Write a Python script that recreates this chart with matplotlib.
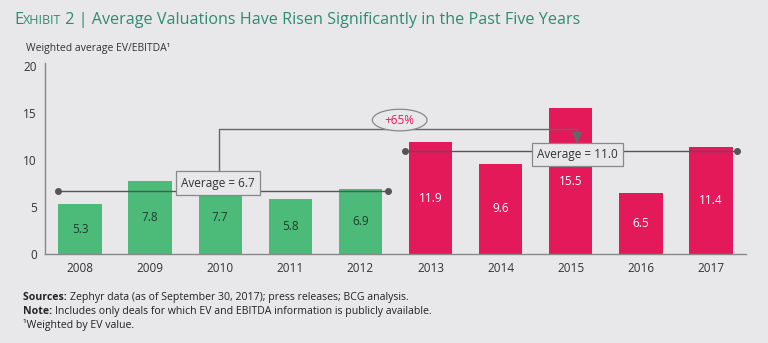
import matplotlib
matplotlib.use("Agg")
import matplotlib.pyplot as plt
from matplotlib.patches import Ellipse

plt.rcParams['font.family'] = ['Open Sans', 'DejaVu Sans']

years = ['2008', '2009', '2010', '2011', '2012', '2013', '2014', '2015', '2016', '2017']
values = [5.3, 7.8, 7.7, 5.8, 6.9, 11.9, 9.6, 15.5, 6.5, 11.4]
avg_before = 6.7   # 2008-2012
avg_after = 11.0   # 2013-2017
change_label = '+65%'
y_ticks = [0, 5, 10, 15, 20]

bg = '#e8e8ea'
green = '#4cba79'
red = '#e3195a'
teal = '#2f8c70'
grey = '#666666'

fig = plt.figure(figsize=(7.68, 3.43), dpi=100, facecolor=bg)
ax = fig.add_axes([45 / 768, 1 - 254 / 343, (746 - 45) / 768, (254 - 66) / 343])
ax.set_facecolor(bg)

x = list(range(len(years)))
colors = [green] * 5 + [red] * 5
ax.bar(x, values, width=0.62, color=colors, zorder=2)
for xi, v, c in zip(x, values, colors):
    ax.text(xi, v / 2, f'{v:.1f}', ha='center', va='center', fontsize=8.5,
            color='#1f3d2b' if c == green else 'white', zorder=3)

ax.set_xlim(-0.5, 9.5)
ax.set_ylim(0, 20)
ax.set_xticks(x)
ax.set_xticklabels(years, fontsize=8.5, color='#333333')
ax.set_yticks(y_ticks)
ax.set_yticklabels([str(t) for t in y_ticks], fontsize=8.5, color='#333333')
ax.tick_params(length=0, pad=6)
for s in ['top', 'right']:
    ax.spines[s].set_visible(False)
for s in ['left', 'bottom']:
    ax.spines[s].set_color('#888888')
    ax.spines[s].set_linewidth(1.0)
ax.spines['left'].set_bounds(0, 20.3)

# average lines with end dots
ax.plot([-0.31, 4.39], [avg_before] * 2, color='#555555', lw=1.0, zorder=4,
        marker='o', markersize=4, markevery=[0, 1], clip_on=False)
ax.plot([4.63, 9.37], [avg_after] * 2, color='#555555', lw=1.0, zorder=4,
        marker='o', markersize=4, markevery=[0, 1], clip_on=False)

box = dict(boxstyle='square,pad=0.45', fc=bg, ec='#888888', lw=0.9)
ax.text(1.97, 7.55, f'Average = {avg_before:.1f}', ha='center', va='center',
        fontsize=8.5, color='#333333', bbox=box, zorder=6)
ax.text(7.1, 10.6, f'Average = {avg_after:.1f}', ha='center', va='center',
        fontsize=8.5, color='#333333', bbox=box, zorder=6)

# bracket from the first average to the second
ax.plot([1.98, 1.98, 7.09, 7.09], [8.8, 13.3, 13.3, 12.6], color=grey, lw=1.0, zorder=5)
ax.annotate('', xy=(7.09, 11.7), xytext=(7.09, 12.7),
            arrowprops=dict(arrowstyle='-|>,head_length=0.7,head_width=0.3',
                            fc=grey, ec=grey, lw=1.0, shrinkA=0, shrinkB=0), zorder=7)
ax.add_patch(Ellipse((4.56, 14.25), 0.78, 2.3, fc=bg, ec='#888888', lw=0.9, zorder=6))
ax.text(4.56, 14.25, change_label, ha='center', va='center', fontsize=8.5,
        color=red, zorder=7)

r = fig.canvas.get_renderer()


def run_text(x0, y0, parts, color, **kw):
    # lay out text pieces one after another on the same baseline
    xpos = x0
    for txt, size, weight in parts:
        t = fig.text(xpos / 768, 1 - y0 / 343, txt, fontsize=size, weight=weight,
                     color=color, va='baseline', **kw)
        xpos += t.get_window_extent(r).width


# title with small-caps "Exhibit"
run_text(14, 24, [('E', 11.6, 'normal'), ('XHIBIT', 9.0, 'normal'),
                  (' 2 | Average Valuations Have Risen Significantly in the Past Five Years', 11.6, 'normal')],
         teal)

fig.text(26 / 768, 1 - 49 / 343, 'Weighted average EV/EBITDA\u00b9', fontsize=7.5,
         color='#333333', va='center')

fs = 7.6
run_text(23, 300, [('Sources: ', fs, 'bold'),
                   ('Zephyr data (as of September 30, 2017); press releases; BCG analysis.', fs, 'normal')],
         '#222222')
run_text(23, 314, [('Note: ', fs, 'bold'),
                   ('Includes only deals for which EV and EBITDA information is publicly available.', fs, 'normal')],
         '#222222')
run_text(23, 328, [('\u00b9Weighted by EV value.', fs, 'normal')], '#222222')

fig.savefig('out.png', dpi=100, facecolor=bg)
